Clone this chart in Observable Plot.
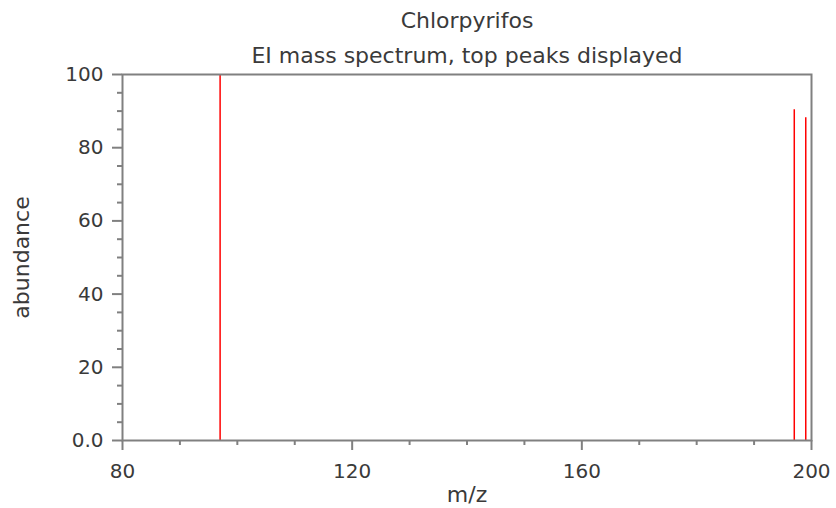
<!DOCTYPE html>
<html>
<head>
<meta charset="utf-8">
<script src="https://cdn.jsdelivr.net/npm/d3@7"></script>
<script src="https://cdn.jsdelivr.net/npm/@observablehq/plot@0.6"></script>
<style>
  html, body { margin: 0; padding: 0; background: #fff; }
</style>
</head>
<body>
<div id="chart"></div>
<script>
const title = "Chlorpyrifos";
const subtitle = "EI mass spectrum, top peaks displayed";
const xLabel = "m/z";
const yLabel = "abundance";
const mz = [97, 197, 199];
const abundance = [100, 90.4, 88.2];
const xMajorTicks = [80, 120, 160, 200];
const xMinorTicks = [90, 100, 110, 130, 140, 150, 170, 180, 190];
const yMajorTicks = [0, 20, 40, 60, 80, 100];
const yMajorLabels = ["0.0", "20", "40", "60", "80", "100"];
const yMinorTicks = [5, 10, 15, 25, 30, 35, 45, 50, 55, 65, 70, 75, 85, 90, 95];

const peaks = mz.map((m, i) => ({mz: m, abundance: abundance[i]}));
const font = "DejaVu Sans";
const textColor = "#3a3a3a";
const axisColor = "#808080";

const chart = Plot.plot({
  width: 836,
  height: 508,
  marginLeft: 122,
  marginRight: 25,
  marginTop: 74,
  marginBottom: 68,
  style: {fontFamily: font, fontSize: "20px", color: textColor, background: "#fff"},
  x: {domain: [80, 200]},
  y: {domain: [0, 100]},
  marks: [
    Plot.ruleX(peaks, {x: "mz", y1: 0, y2: "abundance", stroke: "#ff0000", strokeWidth: 1.5}),
    Plot.frame({stroke: axisColor, strokeWidth: 2}),
    Plot.axisX({ticks: xMinorTicks, tickSize: 5, tickFormat: () => "", stroke: axisColor, strokeWidth: 2, label: null}),
    Plot.axisX({ticks: xMajorTicks, tickSize: 10, tickPadding: 13, stroke: axisColor, strokeWidth: 2, label: null, fontSize: 20}),
    Plot.axisY({ticks: yMinorTicks, tickSize: 5, tickFormat: () => "", stroke: axisColor, strokeWidth: 2, label: null}),
    Plot.axisY({ticks: yMajorTicks, tickSize: 10, tickPadding: 9, stroke: axisColor, strokeWidth: 2, label: null, fontSize: 20,
      tickFormat: d => yMajorLabels[yMajorTicks.indexOf(d)]}),
    Plot.text([title], {frameAnchor: "top", lineAnchor: "middle", dy: -54, fontSize: 22, fill: textColor}),
    Plot.text([subtitle], {frameAnchor: "top", lineAnchor: "middle", dy: -19, fontSize: 22, fill: textColor}),
    Plot.text([xLabel], {frameAnchor: "bottom", lineAnchor: "middle", dy: 54, fontSize: 22, fill: textColor}),
    Plot.text([yLabel], {frameAnchor: "left", lineAnchor: "middle", textAnchor: "middle", dx: -101, rotate: -90, fontSize: 22, fill: textColor})
  ]
});
document.getElementById("chart").appendChild(chart);
</script>
</body>
</html>
